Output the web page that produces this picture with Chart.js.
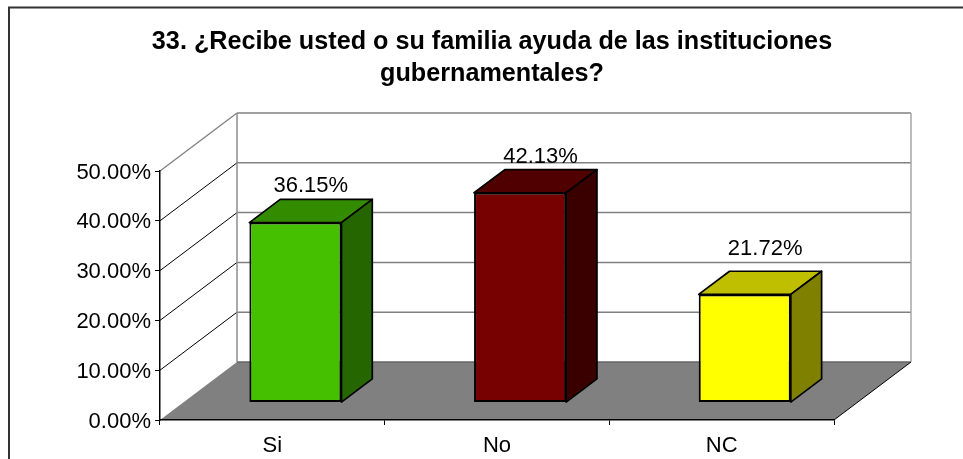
<!DOCTYPE html>
<html>
<head>
<meta charset="utf-8">
<style>html,body{margin:0;padding:0;background:#fff}canvas{display:block}</style>
<script src="https://cdn.jsdelivr.net/npm/chart.js@4"></script>
</head>
<body>
<canvas id="c" width="963" height="459"></canvas>
<script>
const titleLines = ['33. ¿Recibe usted o su familia ayuda de las instituciones', 'gubernamentales?'];
const categories = ['Si', 'No', 'NC'];
const values = [36.15, 42.13, 21.72];
const frontColors = ['#44C000', '#770000', '#FFFF00'];
const topColors = ['#338C00', '#500000', '#BFBF00'];
const sideColors = ['#266600', '#3A0000', '#808000'];
const yTicks = [0, 10, 20, 30, 40, 50];

const FONT = '"Liberation Sans", Arial, sans-serif';
const depth = {x: 77, y: 58, barFront: 0.3, barBack: 0.7};
const labelNudge = {x: [0, 5, 5], y: [0, 0, -9]};

function line(ctx, x1, y1, x2, y2, color, w) {
  ctx.strokeStyle = color; ctx.lineWidth = w;
  ctx.beginPath(); ctx.moveTo(x1, y1); ctx.lineTo(x2, y2); ctx.stroke();
}

const box3d = {
  id: 'box3d',
  afterLayout(chart) {
    chart.titleBlock.left = 21;
    chart.titleBlock.right = chart.width;
  },
  beforeDraw(chart) {
    const {ctx, width} = chart;
    const {left, right, top, bottom} = chart.chartArea;
    const y = chart.scales.y;
    const dx = depth.x, dy = depth.y;
    ctx.save();
    ctx.fillStyle = '#fff';
    ctx.fillRect(0, 0, width, chart.height);
    ctx.strokeStyle = '#333'; ctx.lineWidth = 2;
    ctx.strokeRect(9, 7.5, 1000, 500);
    // floor
    ctx.fillStyle = '#808080';
    ctx.beginPath();
    ctx.moveTo(left, bottom); ctx.lineTo(right, bottom);
    ctx.lineTo(right + dx, bottom - dy); ctx.lineTo(left + dx, bottom - dy);
    ctx.closePath(); ctx.fill();
    // walls and grid
    yTicks.forEach(v => {
      const p = y.getPixelForValue(v);
      if (v > 0) {
        line(ctx, left + dx, p - dy, right + dx, p - dy, '#808080', 1.5);
        line(ctx, left, p, left + dx, p - dy, v === 50 ? '#808080' : '#000', v === 50 ? 1.3 : 1);
      } else {
        line(ctx, left + dx, p - dy, right + dx, p - dy, '#666', 1.5);
      }
    });
    line(ctx, left + dx, top - dy, left + dx, bottom - dy, '#8c8c8c', 1.5);
    line(ctx, right + dx, top - dy, right + dx, bottom - dy, '#a6a6a6', 1.5);
    line(ctx, right, bottom, right + dx, bottom - dy, '#000', 1);
    ctx.restore();
  },
  beforeDatasetDraw(chart) {
    const {ctx} = chart;
    const meta = chart.getDatasetMeta(0);
    const ox = depth.x * depth.barFront, oy = depth.y * depth.barFront;
    const bx = depth.x * (depth.barBack - depth.barFront), by = depth.y * (depth.barBack - depth.barFront);
    ctx.save();
    ctx.translate(ox, oy * -1);
    ctx.lineJoin = 'round'; ctx.strokeStyle = '#000'; ctx.lineWidth = 1.7;
    meta.data.forEach((bar, i) => {
      const l = bar.x - bar.width / 2, r = bar.x + bar.width / 2, t = bar.y, b = bar.base;
      ctx.fillStyle = topColors[i];
      ctx.beginPath();
      ctx.moveTo(l, t); ctx.lineTo(l + bx, t - by); ctx.lineTo(r + bx, t - by); ctx.lineTo(r, t);
      ctx.closePath(); ctx.fill(); ctx.stroke();
      ctx.fillStyle = sideColors[i];
      ctx.beginPath();
      ctx.moveTo(r, t); ctx.lineTo(r + bx, t - by); ctx.lineTo(r + bx, b - by); ctx.lineTo(r, b);
      ctx.closePath(); ctx.fill(); ctx.stroke();
    });
  },
  afterDatasetDraw(chart) {
    const {ctx} = chart;
    ctx.restore();
    const meta = chart.getDatasetMeta(0);
    const ox = depth.x * depth.barFront, oy = depth.y * depth.barFront;
    const bx = depth.x * (depth.barBack - depth.barFront), by = depth.y * (depth.barBack - depth.barFront);
    ctx.save();
    ctx.fillStyle = '#000';
    ctx.font = '22px ' + FONT;
    ctx.textAlign = 'center';
    ctx.textBaseline = 'alphabetic';
    meta.data.forEach((bar, i) => {
      ctx.fillText(values[i].toFixed(2) + '%',
        bar.x + ox + bx / 2 + labelNudge.x[i],
        bar.y - oy - by - 7 + labelNudge.y[i]);
    });
    ctx.restore();
  }
};

new Chart(document.getElementById('c'), {
  type: 'bar',
  data: {
    labels: categories,
    datasets: [{
      data: values,
      backgroundColor: frontColors,
      borderColor: '#000',
      borderWidth: 2,
      borderSkipped: false,
      categoryPercentage: 1,
      barPercentage: 0.41
    }]
  },
  plugins: [box3d],
  options: {
    responsive: false,
    animation: false,
    devicePixelRatio: 1,
    layout: {padding: {left: 0, right: 129, top: 0, bottom: 0}},
    plugins: {
      legend: {display: false},
      tooltip: {enabled: false},
      title: {
        display: true,
        text: titleLines,
        color: '#000',
        font: {family: FONT, size: 25.2, weight: 'bold', lineHeight: 1.27},
        padding: {top: 26, bottom: 81}
      }
    },
    scales: {
      x: {
        grid: {drawOnChartArea: false, color: '#000', tickLength: 5, lineWidth: 1},
        border: {color: '#000', width: 1.5},
        ticks: {color: '#000', font: {family: FONT, size: 22}, padding: 8, maxRotation: 0},
        afterFit(s) { s.height = 39; }
      },
      y: {
        min: 0,
        max: 50,
        afterBuildTicks(s) { s.ticks = yTicks.map(v => ({value: v})); },
        grid: {drawOnChartArea: false, color: '#000', tickLength: 5, lineWidth: 1},
        border: {color: '#000', width: 1.5},
        ticks: {color: '#000', font: {family: FONT, size: 22}, padding: 4, labelOffset: 1.5,
          callback: v => v.toFixed(2) + '%'},
        afterFit(s) { s.width = 160; }
      }
    }
  }
});
</script>
</body>
</html>
